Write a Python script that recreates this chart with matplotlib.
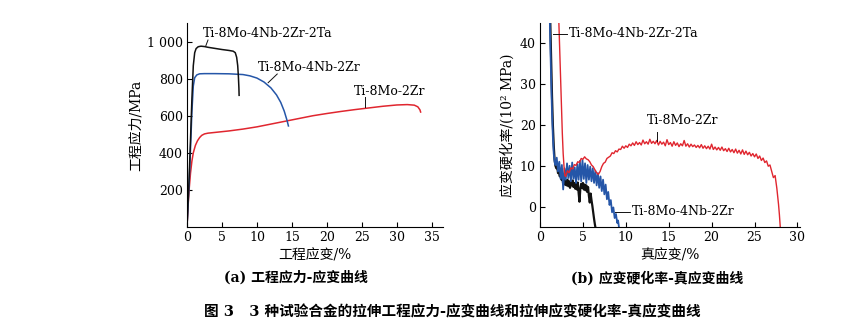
import matplotlib
matplotlib.use("Agg")
import matplotlib.pyplot as plt

plt.rcParams['font.family'] = ['DejaVu Serif', 'Noto Sans CJK SC']
plt.rcParams['axes.unicode_minus'] = False

RED = '#e0262f'
BLUE = '#2556a8'
BLACK = '#111111'

# (a) engineering stress-strain
ta_strain = [0, 0.3, 0.5, 0.7, 0.9, 1.1, 1.3, 1.6, 2.0, 2.5, 3.0, 4.0, 5.0, 6.0, 6.6,
             6.9, 7.1, 7.25, 7.35, 7.42, 7.45]
ta_stress = [0, 260, 470, 690, 870, 940, 962, 972, 975, 973, 969, 963, 957, 952, 948,
             940, 915, 870, 810, 750, 710]

nb_strain = [0, 0.3, 0.5, 0.7, 0.9, 1.1, 1.4, 1.8, 2.5, 4, 6, 8, 9, 10, 11, 12, 12.8,
             13.4, 13.9, 14.3, 14.5]
nb_stress = [0, 230, 420, 620, 760, 805, 820, 826, 827, 827, 826, 822, 815, 803, 782,
             750, 712, 672, 625, 575, 545]

zr_strain = [0, 0.15, 0.3, 0.5, 0.7, 0.9, 1.2, 1.5, 1.8, 2.1, 2.5, 3.0, 4, 6, 8, 10, 12,
             14, 16, 18, 20, 22, 24, 26, 28, 30, 31.5, 32.5, 33.0, 33.3, 33.4]
zr_stress = [0, 110, 200, 290, 355, 400, 440, 465, 482, 494, 502, 506, 510, 518, 528,
             540, 555, 570, 585, 600, 612, 623, 633, 642, 651, 658, 660, 657, 648, 632, 620]

# (b) strain hardening rate vs true strain (10^2 MPa)
ta_true = [1.2, 1.3, 1.4, 1.5, 1.6, 1.7, 1.8, 1.9, 2.0, 2.1, 2.2, 2.3, 2.4, 2.5, 2.6,
           2.7, 2.8, 2.9, 3.0, 3.1, 3.2, 3.3, 3.4, 3.5, 3.6, 3.7, 3.8, 3.9, 4.0, 4.1,
           4.2, 4.3, 4.4, 4.5, 4.6, 4.7, 4.8, 4.9, 5.0, 5.1, 5.2, 5.3, 5.4, 5.5, 5.6,
           5.7, 5.8, 5.9, 6.0, 6.1, 6.2, 6.3, 6.4, 6.45]
ta_rate = [45, 36, 27, 20, 15, 11.5, 10.0, 9.4, 9.8, 8.2, 8.8, 7.4, 7.9, 6.6, 7.2,
           5.6, 6.8, 5.4, 6.4, 5.2, 6.6, 5.0, 6.2, 4.6, 6.0, 5.2, 6.4, 4.8, 5.8, 4.4,
           5.6, 4.2, 5.9, 3.4, 1.2, 4.4, 5.6, 4.6, 5.8, 4.2, 5.4, 4.0, 5.2, 3.6, 4.8,
           2.6, 1.0, 3.2, 1.6, 0.2, -1.4, -3.0, -4.4, -5.0]

nb_true = [1.15, 1.2, 1.3, 1.4, 1.5, 1.6, 1.7, 1.8, 1.95, 2.1, 2.25, 2.4, 2.55, 2.7,
           2.85, 3.0, 3.15, 3.3, 3.45, 3.6, 3.75, 3.9, 4.05, 4.2, 4.35, 4.5, 4.65, 4.8,
           4.95, 5.1, 5.25, 5.4, 5.55, 5.7, 5.85, 6.0, 6.15, 6.3, 6.45, 6.6, 6.75, 6.9,
           7.05, 7.2, 7.35, 7.5, 7.65, 7.8, 7.95, 8.1, 8.25, 8.4, 8.55, 8.7, 8.85, 9.0,
           9.1, 9.2]
nb_rate = [45, 40, 31, 23, 17, 13, 11, 10.2, 12.0, 8.6, 11.0, 6.8, 10.2, 4.2,
           9.4, 6.6, 10.6, 7.0, 10.0, 6.2, 10.8, 6.8, 9.6, 5.8, 10.4, 6.6, 11.2, 6.2,
           11.4, 6.8, 10.6, 5.8, 10.2, 6.6, 9.8, 6.2, 9.4, 5.8, 8.8, 5.2, 8.2, 4.6,
           7.4, 3.8, 6.6, 3.0, 5.4, 1.8, 3.6, 0.4, 1.6, -1.4, -0.2, -2.8, -1.8, -4.0,
           -3.4, -5.0]

zr_true = [2.2, 2.35, 2.5, 2.6, 2.7, 2.8, 2.9, 3.0, 3.2, 3.4, 3.6, 3.8, 4.0, 4.2, 4.4,
           4.6, 4.8, 5.0, 5.2, 5.4, 5.6, 5.8, 6.0, 6.2, 6.4, 6.6, 6.8, 7.0, 7.2, 7.4,
           7.6, 7.8, 8.0, 8.2, 8.4, 8.6, 8.8, 9.0, 9.2, 9.4, 9.6, 9.8, 10.0, 10.2, 10.4,
           10.6, 10.8, 11.0, 11.2, 11.4, 11.6, 11.8, 12.0, 12.2, 12.4, 12.6, 12.8, 13.0,
           13.2, 13.4, 13.6, 13.8, 14.0, 14.2, 14.4, 14.6, 14.8, 15.0, 15.2, 15.4, 15.6,
           15.8, 16.0, 16.2, 16.4, 16.6, 16.8, 17.0, 17.2, 17.4, 17.6, 17.8, 18.0, 18.2,
           18.4, 18.6, 18.8, 19.0, 19.2, 19.4, 19.6, 19.8, 20.0, 20.2, 20.4, 20.6, 20.8,
           21.0, 21.2, 21.4, 21.6, 21.8, 22.0, 22.2, 22.4, 22.6, 22.8, 23.0, 23.2, 23.4,
           23.6, 23.8, 24.0, 24.2, 24.4, 24.6, 24.8, 25.0, 25.2, 25.4, 25.6, 25.8, 26.0,
           26.2, 26.4, 26.6, 26.8, 27.0, 27.2, 27.4, 27.5, 27.6, 27.7, 27.8, 27.9, 28.0]
zr_rate = [45, 35, 25, 18, 13, 9.8, 7.6, 7.4, 8.8, 8.3, 9.5, 9.2, 10.3, 10.1, 11.0,
           10.8, 11.8, 11.6, 12.2, 11.7, 11.5, 11.0, 10.2, 9.8, 9.0, 8.3, 7.9, 8.6, 9.8, 10.6,
           10.9, 11.8, 12.1, 12.4, 13.2, 13.0, 13.7, 13.4, 14.1, 14.0, 14.8, 14.3, 14.9, 14.5, 15.3,
           14.9, 15.6, 15.0, 15.9, 15.2, 15.7, 15.1, 16.3, 15.4, 15.9, 15.3, 16.5, 15.5,
           16.0, 15.4, 16.2, 15.1, 16.0, 15.3, 15.8, 14.9, 16.4, 15.2, 15.7, 14.8, 15.9,
           15.0, 15.6, 14.7, 15.4, 14.9, 16.2, 14.8, 15.4, 14.6, 15.3, 14.7, 15.1, 14.5,
           15.0, 14.4, 15.2, 14.3, 14.9, 14.2, 14.8, 14.1, 15.3, 14.0, 14.6, 13.9, 14.5,
           13.8, 14.6, 13.7, 14.2, 13.5, 14.3, 13.4, 14.0, 13.2, 14.1, 13.1, 13.8, 12.9,
           13.9, 12.8, 13.6, 12.7, 13.3, 12.4, 13.0, 12.2, 12.9, 11.8, 12.4, 11.3, 11.9,
           10.8, 11.2, 9.9, 10.2, 8.6, 7.1, 7.6, 6.0, 4.5, 2.5, 0.5, -2.0, -5.0]

fig = plt.figure(figsize=(8.58, 3.29), dpi=100)
ax1 = fig.add_axes([187 / 858, 1 - 227 / 329, 256 / 858, 204 / 329])
ax2 = fig.add_axes([540 / 858, 1 - 227 / 329, 260 / 858, 204 / 329])

for ax in (ax1, ax2):
    ax.spines['top'].set_visible(False)
    ax.spines['right'].set_visible(False)
    ax.tick_params(direction='in', length=3.5, width=0.8, labelsize=9, pad=3)

ann = dict(fontsize=9, va='center', ha='left')
lead = dict(color=BLACK, lw=0.7)

# left panel
ax1.plot(zr_strain, zr_stress, color=RED, lw=1.1)
ax1.plot(nb_strain, nb_stress, color=BLUE, lw=1.1)
ax1.plot(ta_strain, ta_stress, color=BLACK, lw=1.1)
ax1.set_xlim(0, 36.6)
ax1.set_ylim(0, 1100)
ax1.set_xticks(range(0, 36, 5))
ax1.set_yticks([200, 400, 600, 800, 1000])
ax1.set_yticklabels(['200', '400', '600', '800', '1 000'])
ax1.set_xlabel('工程应变/%', fontsize=10, labelpad=3)
ax1.set_ylabel('工程应力/MPa', fontsize=10, labelpad=3)

ax1.plot([2.7, 3.0], [978, 1008], **lead)
ax1.text(2.3, 1045, 'Ti-8Mo-4Nb-2Zr-2Ta', **ann)
ax1.plot([11.6, 12.9], [778, 825], **lead)
ax1.text(10.1, 862, 'Ti-8Mo-4Nb-2Zr', **ann)
ax1.plot([25.4, 25.4], [649, 700], **lead)
ax1.text(23.9, 730, 'Ti-8Mo-2Zr', **ann)

# right panel: black underneath, red on top
ax2.plot(ta_true, ta_rate, color=BLACK, lw=1.6)
ax2.plot(nb_true, nb_rate, color=BLUE, lw=1.3)
ax2.plot(zr_true, zr_rate, color=RED, lw=1.0)
ax2.set_xlim(0, 30.3)
ax2.set_ylim(-5, 45)
ax2.set_xticks(range(0, 31, 5))
ax2.set_yticks([0, 10, 20, 30, 40])
ax2.set_xlabel('真应变/%', fontsize=10, labelpad=3)
ax2.set_ylabel('应变硬化率/(10² MPa)', fontsize=10, labelpad=4)

ax2.plot([1.5, 3.1], [42.4, 42.4], **lead)
ax2.text(3.4, 42.4, 'Ti-8Mo-4Nb-2Zr-2Ta', **ann)
ax2.plot([13.6, 13.6], [16.1, 18.4], **lead)
ax2.text(12.4, 21.2, 'Ti-8Mo-2Zr', **ann)
ax2.plot([8.75, 10.5], [-1.3, -1.3], **lead)
ax2.text(10.7, -1.3, 'Ti-8Mo-4Nb-2Zr', **ann)

# captions
fig.text(296 / 858, 1 - 278 / 329, '(a) 工程应力-应变曲线', fontsize=10,
         fontweight='bold', ha='center', va='center')
fig.text(657 / 858, 1 - 278 / 329, '(b) 应变硬化率-真应变曲线', fontsize=10,
         fontweight='bold', ha='center', va='center')
fig.text(452 / 858, 1 - 312 / 329,
         '图 3   3 种试验合金的拉伸工程应力-应变曲线和拉伸应变硬化率-真应变曲线',
         fontsize=10.5, fontweight='bold', ha='center', va='center')

fig.savefig('out.png', dpi=100)
